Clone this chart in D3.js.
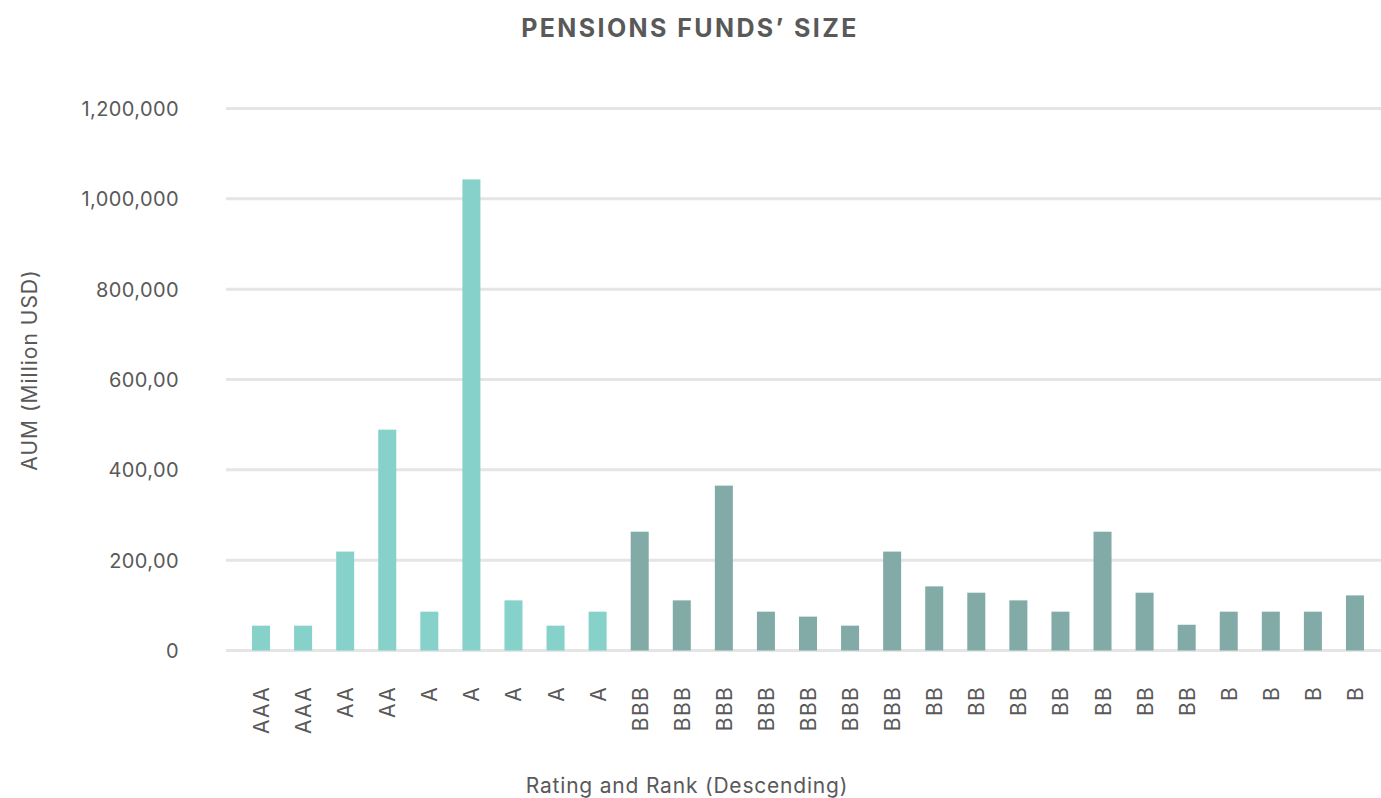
<!DOCTYPE html>
<html>
<head>
<meta charset="utf-8">
<script src="https://cdn.jsdelivr.net/npm/d3@7"></script>
<style>
  body { margin: 0; background: #fff; }
  svg text { font-family: Inter, "Noto Sans", sans-serif; fill: #595959; }
</style>
</head>
<body>
<div id="chart"></div>
<script>
const ratings = ["AAA", "AAA", "AA", "AA", "A", "A", "A", "A", "A",
  "BBB", "BBB", "BBB", "BBB", "BBB", "BBB", "BBB",
  "BB", "BB", "BB", "BB", "BB", "BB", "BB",
  "B", "B", "B", "B"];
const aum = [55000, 55000, 219000, 489000, 86000, 1043000, 111000, 55000, 86000,
  263000, 111000, 365000, 86000, 75000, 55000, 219000,
  142000, 128000, 111000, 86000, 263000, 128000, 57000,
  86000, 86000, 86000, 122000];
const tickValues = [0, 200000, 400000, 600000, 800000, 1000000, 1200000];
const tickLabels = ["0", "200,00", "400,00", "600,00", "800,000", "1,000,000", "1,200,000"];

const width = 1381, height = 798;
const margin = { top: 108.5, right: 5, bottom: 147.5, left: 240 };

const svg = d3.select("#chart").append("svg")
  .attr("width", width)
  .attr("height", height);

const data = ratings.map((r, i) => ({ i, rating: r, value: aum[i] }));

const x = d3.scaleBand()
  .domain(data.map(d => d.i))
  .range([240, 1376])
  .paddingInner(0.572)
  .paddingOuter(0.286);

const y = d3.scaleLinear()
  .domain([0, 1200000])
  .range([height - margin.bottom, margin.top]);

// gridlines
svg.append("g")
  .selectAll("line")
  .data(tickValues)
  .enter().append("line")
  .attr("x1", 226)
  .attr("x2", 1381)
  .attr("y1", d => y(d))
  .attr("y2", d => y(d))
  .attr("stroke", "#e5e5e5")
  .attr("stroke-width", 3);

// y tick labels
svg.append("g")
  .selectAll("text")
  .data(tickValues)
  .enter().append("text")
  .attr("x", 179)
  .attr("y", d => y(d) + 2)
  .attr("text-anchor", "end")
  .attr("dominant-baseline", "middle")
  .style("font-size", "20px")
  .style("letter-spacing", "0.4px")
  .text((d, i) => tickLabels[i]);

// bars
const light = ["AAA", "AA", "A"];
svg.append("g")
  .selectAll("rect")
  .data(data)
  .enter().append("rect")
  .attr("x", d => x(d.i))
  .attr("width", x.bandwidth())
  .attr("y", d => y(d.value))
  .attr("height", d => y(0) - y(d.value))
  .attr("fill", d => light.includes(d.rating) ? "#86d1c9" : "#82aba8");

// x labels (rotated)
svg.append("g")
  .selectAll("text")
  .data(data)
  .enter().append("text")
  .attr("transform", d => `translate(${x(d.i) + x.bandwidth() / 2 + 8},686) rotate(-90)`)
  .attr("text-anchor", "end")
  .style("font-size", "21px")
  .style("letter-spacing", "1.3px")
  .text(d => d.rating);

// title
svg.append("text")
  .attr("x", 690)
  .attr("y", 37)
  .attr("text-anchor", "middle")
  .style("font-size", "25px")
  .style("font-weight", "bold")
  .style("letter-spacing", "2.4px")
  .text("PENSIONS FUNDS’ SIZE");

// axis titles
svg.append("text")
  .attr("x", 687)
  .attr("y", 793)
  .attr("text-anchor", "middle")
  .style("font-size", "21px")
  .style("letter-spacing", "0.8px")
  .text("Rating and Rank (Descending)");

svg.append("text")
  .attr("transform", "translate(37,370) rotate(-90)")
  .attr("text-anchor", "middle")
  .style("font-size", "21px")
  .style("letter-spacing", "1px")
  .text("AUM (Million USD)");
</script>
</body>
</html>
